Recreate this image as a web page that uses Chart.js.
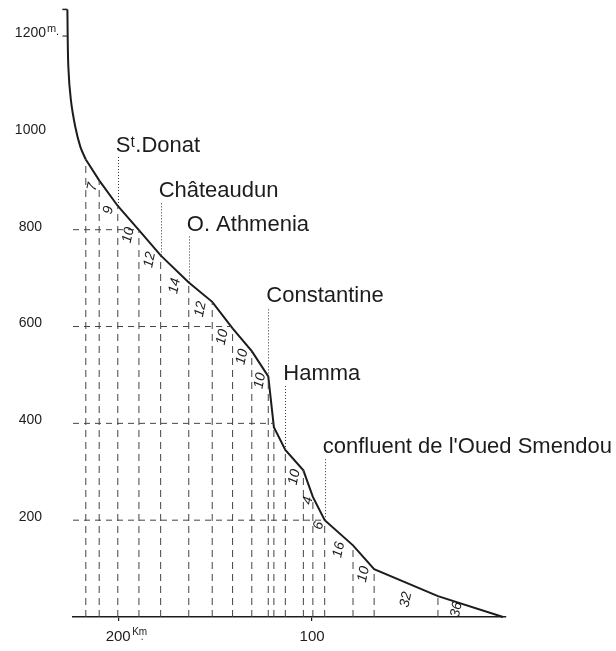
<!DOCTYPE html>
<html><head><meta charset="utf-8">
<script src="https://cdn.jsdelivr.net/npm/chart.js@4.4.1/dist/chart.umd.min.js"></script>
<style>html,body{margin:0;padding:0;background:#fff;}#wrap{width:616px;height:651px;}</style>
</head><body><div id="wrap"><canvas id="c" width="616" height="651"></canvas></div>
<script>
// ---- DATA ----
// upper course (smooth curve): km from the mouth, altitude in m
const upperKm   = [226.2, 225.7, 224.4, 222.1, 219.5, 216.7];
const upperElev = [1255, 1136, 1068, 1012, 971, 945];
// profile vertices (stations), ending at the mouth
const stationKm   = [216.7, 209.8, 200.2, 189.3, 178.1, 163.6, 151.5, 141.0, 131.1, 122.6, 119.7, 113.8, 104.5, 99.6, 93.5, 78.9, 68.0, 35.1, 1.5];
const stationElev = [945, 902, 849, 799, 747, 691, 651, 596, 549, 497, 392, 345, 303, 248, 200, 148, 99, 43, 0];
// numbers written between consecutive stations
const segmentLabels = ['7','9','10','12','14','12','10','10','10','','','10','4','6','16','10','32','36'];
// named places
const placeNames = ['Sᵗ.Donat', 'Châteaudun', 'O. Athmenia', 'Constantine', 'Hamma', "confluent de l'Oued Smendou"];
const placeKm    = [200.2, 178.1, 163.6, 122.6, 113.8, 93.5];
// axes
const yTicks = [200, 400, 600, 800, 1000, 1200];
const xTicks = [100, 200];
const levelLines = [200, 400, 600, 800];
const xMax = 223.3, yMax = 1260;

// ---- LAYOUT (pixels) ----
const placeLabelRise = [54, 58, 51, 74, 70, 67];
const segLabelNudge = {17: [-14, -14], 6: [0, 5]};

const FONT = '"Liberation Sans", Arial, sans-serif';
const INK = '#1c1c1c';

function elevAt(km) {
  for (let i = 0; i < stationKm.length - 1; i++) {
    const a = stationKm[i], b = stationKm[i + 1];
    if (km <= a && km >= b) return stationElev[i] + (km - a) * (stationElev[i + 1] - stationElev[i]) / (b - a);
  }
  return stationElev[0];
}
function kmAtLevel(L) {
  for (let i = 0; i < stationKm.length - 1; i++) {
    const e0 = stationElev[i], e1 = stationElev[i + 1];
    if (e0 >= L && e1 <= L) return stationKm[i] + (L - e0) * (stationKm[i + 1] - stationKm[i]) / (e1 - e0);
  }
  return stationKm[0];
}

const levelData = [];
levelLines.forEach(L => {
  levelData.push({x: xMax, y: L}, {x: kmAtLevel(L), y: L}, {x: kmAtLevel(L), y: null});
});
const verticalData = [];
for (let i = 0; i < stationKm.length - 1; i++) {
  verticalData.push({x: stationKm[i], y: 0}, {x: stationKm[i], y: stationElev[i]}, {x: stationKm[i], y: null});
}

const annot = {
  id: 'annot',
  afterDatasetsDraw(chart) {
    const {ctx, scales: {x, y}} = chart;
    const px = v => x.getPixelForValue(v), py = v => y.getPixelForValue(v);
    ctx.save();
    // dotted lines to place names
    ctx.strokeStyle = '#333'; ctx.lineWidth = 1; ctx.setLineDash([1, 2]);
    placeKm.forEach((km, i) => {
      const xx = Math.round(px(km)) + 0.5, y0 = py(elevAt(km)), yb = y0 - placeLabelRise[i];
      ctx.beginPath(); ctx.moveTo(xx, y0); ctx.lineTo(xx, yb + 5); ctx.stroke();
    });
    ctx.setLineDash([]);
    ctx.fillStyle = INK;
    ctx.font = '22px ' + FONT; ctx.textAlign = 'left'; ctx.textBaseline = 'alphabetic';
    placeKm.forEach((km, i) => {
      ctx.fillText(placeNames[i], px(km) - 2, py(elevAt(km)) - placeLabelRise[i]);
    });
    // segment numbers
    ctx.font = 'italic 14px ' + FONT; ctx.textAlign = 'center'; ctx.textBaseline = 'middle';
    for (let i = 0; i < segmentLabels.length; i++) {
      if (!segmentLabels[i]) continue;
      const mid = (stationKm[i] + stationKm[i + 1]) / 2;
      const n = segLabelNudge[i] || [0, 0];
      const cx = px(mid) + n[0], cy = py(elevAt(mid)) + 17 + n[1];
      ctx.save(); ctx.translate(cx, cy); ctx.rotate(-78 * Math.PI / 180);
      ctx.fillText(segmentLabels[i], 0, 0); ctx.restore();
    }
    // top bracket and 1200 tick beside the curve
    ctx.strokeStyle = INK; ctx.lineWidth = 1.5;
    const tx = px(upperKm[0]), ty = py(upperElev[0]);
    ctx.beginPath(); ctx.moveTo(tx - 5, ty); ctx.lineTo(tx, ty); ctx.stroke();
    const y12 = py(1200);
    ctx.lineWidth = 1;
    ctx.beginPath(); ctx.moveTo(tx - 5, y12); ctx.lineTo(tx, y12); ctx.stroke();
    // unit marks
    ctx.textAlign = 'left'; ctx.textBaseline = 'alphabetic';
    ctx.font = '14px ' + FONT;
    const w12 = ctx.measureText('1200').width;
    const lab12x = y.right - y.options.ticks.padding - w12 / 2;
    ctx.font = '11px ' + FONT;
    ctx.fillText('m', lab12x + w12 / 2 + 1, y12 - 4);
    ctx.fillText('.', lab12x + w12 / 2 + 10, y12 - 1);
    ctx.font = '15px ' + FONT;
    const w200 = ctx.measureText('200').width;
    const ly = x.top + 4 + 7 + 9;
    ctx.font = '10px ' + FONT;
    ctx.fillText('Km', px(200) + w200 / 2 + 1.5, ly - 2);
    ctx.fillText('.', px(200) + w200 / 2 + 10, ly + 3);
    ctx.restore();
  }
};

new Chart(document.getElementById('c'), {
  type: 'line',
  data: {
    datasets: [
      {data: levelData, borderColor: '#444', borderWidth: 1, borderDash: [6, 5], spanGaps: false, pointRadius: 0, tension: 0},
      {data: verticalData, borderColor: '#444', borderWidth: 1, borderDash: [7, 5], spanGaps: false, pointRadius: 0, tension: 0},
      {data: upperKm.map((k, i) => ({x: k, y: upperElev[i]})), borderColor: INK, borderWidth: 2, pointRadius: 0, tension: 0.35, clip: false},
      {data: stationKm.map((k, i) => ({x: k, y: stationElev[i]})), borderColor: INK, borderWidth: 2, pointRadius: 0, tension: 0, clip: false}
    ]
  },
  options: {
    responsive: false, animation: false, devicePixelRatio: 1,
    layout: {padding: {top: 7, right: 110, left: 0, bottom: 0}},
    plugins: {legend: {display: false}, tooltip: {enabled: false}},
    elements: {point: {radius: 0}},
    scales: {
      x: {
        type: 'linear', reverse: true, min: 0, max: xMax,
        afterBuildTicks: s => { s.ticks = xTicks.map(v => ({value: v})); },
        afterFit: s => { s.height = 34; s.paddingLeft = 0; s.paddingRight = 0; },
        grid: {drawOnChartArea: false, drawTicks: true, tickLength: 4, color: INK, lineWidth: 1.2},
        border: {display: true, color: INK, width: 1.5},
        ticks: {font: {family: FONT, size: 15}, color: INK, padding: 7, maxRotation: 0, autoSkip: false, callback: v => String(v)}
      },
      y: {
        type: 'linear', min: 0, max: yMax,
        afterBuildTicks: s => { s.ticks = yTicks.map(v => ({value: v})); },
        afterFit: s => { s.width = 73; s.paddingTop = 0; s.paddingBottom = 0; },
        grid: {display: false, drawOnChartArea: false, drawTicks: false},
        border: {display: false},
        ticks: {crossAlign: 'center', padding: 27, labelOffset: -3, font: {family: FONT, size: 14}, color: INK, callback: v => String(v)}
      }
    }
  },
  plugins: [annot]
});
</script>
</body></html>
